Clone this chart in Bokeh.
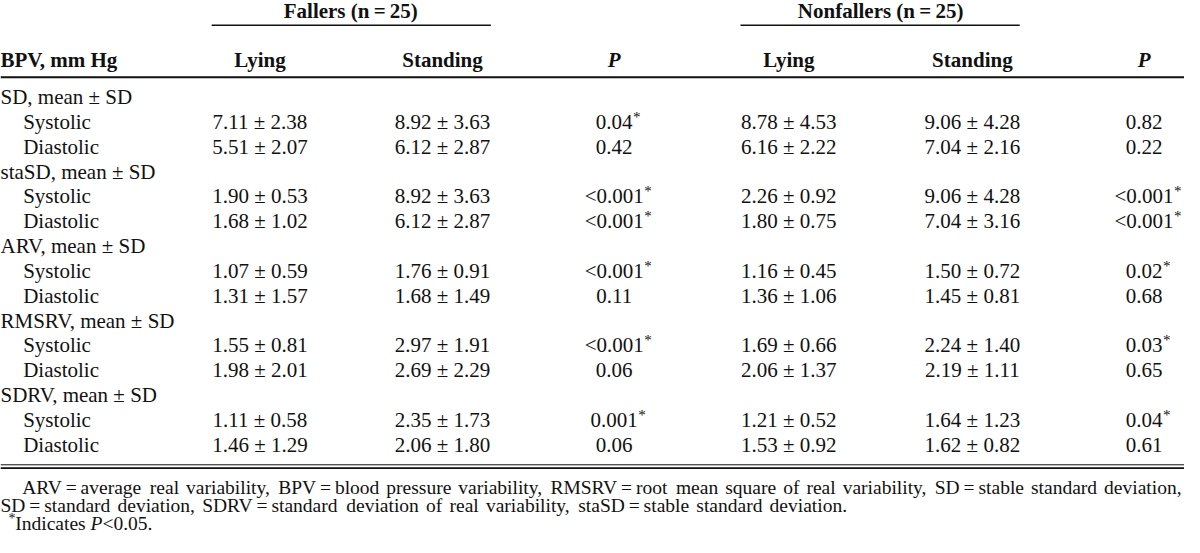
from bokeh.plotting import figure
from bokeh.models import Range1d
from bokeh.core.properties import value
from bokeh.embed import file_html
from bokeh.resources import INLINE

# ---------------- data ----------------
group_labels = ["SD, mean \u00b1 SD", "staSD, mean \u00b1 SD", "ARV, mean \u00b1 SD",
                "RMSRV, mean \u00b1 SD", "SDRV, mean \u00b1 SD"]
sub_labels = ["Systolic", "Diastolic"]
col_headers = ["Lying", "Standing", "P", "Lying", "Standing", "P"]
group_titles = ["Fallers (n\u2009=\u200925)", "Nonfallers (n\u2009=\u200925)"]

fallers_lying_mean = [7.11, 5.51, 1.90, 1.68, 1.07, 1.31, 1.55, 1.98, 1.11, 1.46]
fallers_lying_sd = [2.38, 2.07, 0.53, 1.02, 0.59, 1.57, 0.81, 2.01, 0.58, 1.29]
fallers_standing_mean = [8.92, 6.12, 8.92, 6.12, 1.76, 1.68, 2.97, 2.69, 2.35, 2.06]
fallers_standing_sd = [3.63, 2.87, 3.63, 2.87, 0.91, 1.49, 1.91, 2.29, 1.73, 1.80]
fallers_p = ["0.04", "0.42", "<0.001", "<0.001", "<0.001", "0.11", "<0.001", "0.06", "0.001", "0.06"]
fallers_sig = [True, False, True, True, True, False, True, False, True, False]

nonfallers_lying_mean = [8.78, 6.16, 2.26, 1.80, 1.16, 1.36, 1.69, 2.06, 1.21, 1.53]
nonfallers_lying_sd = [4.53, 2.22, 0.92, 0.75, 0.45, 1.06, 0.66, 1.37, 0.52, 0.92]
nonfallers_standing_mean = [9.06, 7.04, 9.06, 7.04, 1.50, 1.45, 2.24, 2.19, 1.64, 1.62]
nonfallers_standing_sd = [4.28, 2.16, 4.28, 3.16, 0.72, 0.81, 1.40, 1.11, 1.23, 0.82]
nonfallers_p = ["0.82", "0.22", "<0.001", "<0.001", "0.02", "0.68", "0.03", "0.65", "0.04", "0.61"]
nonfallers_sig = [False, False, True, True, True, False, True, False, True, False]

footnote_1 = ("ARV\u2009=\u2009average real variability, BPV\u2009=\u2009blood pressure variability, "
              "RMSRV\u2009=\u2009root mean square of real variability, SD\u2009=\u2009stable standard deviation,")
footnote_2 = ("SD\u2009=\u2009standard deviation, SDRV\u2009=\u2009standard deviation of real variability, "
              "staSD\u2009=\u2009stable standard deviation.")
footnote_3 = ["*", "Indicates ", "P", "<0.05."]

# ---------------- layout / style ----------------
FONT = value("Liberation Serif")
INK = "#111111"
MAIN = 21
FOOT = 19.5
col_x = [263, 448, 622, 799, 985, 1159]
row0, row_step = 102, 25.2
title_y, title_rule_y, header_y, header_rule_y = 15, 29, 64, 82
bottom_rule_y = 477
foot_y = [498, 516.5, 535]
foot_spans = [(22, 1197), (0, 858)]

FIG_W, FIG_H = 1184, 537
X0, X1, Y0, Y1 = 0, 1200, 549, 4
SX = FIG_W / (X1 - X0)  # px per data unit

# Times-compatible advance widths (em)
W = {c: 0.5 for c in "0123456789"}
W.update({" ": 0.25, ",": 0.25, ".": 0.25, "=": 0.564, "<": 0.564, "\u2009": 0.2, "*": 0.5})
W.update(dict(zip("abcdefghijklmnopqrstuvwxyz",
                  [.444, .5, .444, .5, .444, .333, .5, .5, .278, .278, .5, .278, .778, .5, .5, .5,
                   .5, .333, .389, .278, .5, .5, .722, .5, .5, .444])))
W.update(dict(zip("ABCDEFGHIJKLMNOPQRSTUVWXYZ",
                  [.722, .667, .667, .722, .611, .556, .722, .722, .333, .389, .722, .611, .889,
                   .722, .722, .556, .722, .667, .556, .611, .722, .722, .944, .722, .722, .611])))


def width_data(s, size):
    return sum(W.get(c, 0.5) for c in s) * size / SX


p = figure(width=FIG_W, height=FIG_H, x_range=Range1d(X0, X1), y_range=Range1d(Y0, Y1),
           output_backend="svg", toolbar_location=None, x_axis_type=None, y_axis_type=None,
           min_border=0)
p.grid.visible = False
p.outline_line_color = None
p.background_fill_color = "white"
p.border_fill_color = "white"


def txt(xs, ys, texts, size=MAIN, style="normal", align="center", baseline="middle"):
    p.text(x=xs, y=ys, text=texts, text_font=FONT, text_font_size=f"{size}px",
           text_font_style=style, text_align=align, text_baseline=baseline,
           text_color=INK)


# titles and rules
txt([355, 892], [title_y, title_y], group_titles, style="bold")
p.segment(x0=[214, 750], y0=[title_rule_y] * 2, x1=[497, 1033], y1=[title_rule_y] * 2,
          line_color=INK, line_width=1.5)
txt([0], [header_y], ["BPV, mm Hg"], style="bold", align="left")
txt([col_x[i] for i in (0, 1, 3, 4)], [header_y] * 4,
    [col_headers[i] for i in (0, 1, 3, 4)], style="bold")
txt([col_x[2], col_x[5]], [header_y] * 2, [col_headers[2], col_headers[5]], style="bold italic")
p.segment(x0=[0], y0=[header_rule_y], x1=[1200], y1=[header_rule_y], line_color=INK, line_width=2)

# body rows
rows_y = [row0 + row_step * k for k in range(15)]
group_y = [rows_y[3 * g] for g in range(5)]
data_y = [rows_y[3 * g + 1 + s] for g in range(5) for s in range(2)]
txt([0] * 5, group_y, group_labels, align="left")
txt([23] * 10, data_y, [sub_labels[i % 2] for i in range(10)], align="left")


def pm(means, sds):
    return [f"{m:.2f} \u00b1 {s:.2f}" for m, s in zip(means, sds)]


txt([col_x[0]] * 10, data_y, pm(fallers_lying_mean, fallers_lying_sd))
txt([col_x[1]] * 10, data_y, pm(fallers_standing_mean, fallers_standing_sd))
txt([col_x[3]] * 10, data_y, pm(nonfallers_lying_mean, nonfallers_lying_sd))
txt([col_x[4]] * 10, data_y, pm(nonfallers_standing_mean, nonfallers_standing_sd))

for cx, pv, sig in ((col_x[2], fallers_p, fallers_sig), (col_x[5], nonfallers_p, nonfallers_sig)):
    txt([cx] * 10, data_y, pv)
    ax, ay = [], []
    for s, y, flag in zip(pv, data_y, sig):
        if flag:
            ax.append(cx + width_data(s, MAIN) / 2 + 0.5)
            ay.append(y - 5)
    txt(ax, ay, ["*"] * len(ax), size=15, align="left")

# bottom double rule
p.segment(x0=[0, 0], y0=[bottom_rule_y - 1.8, bottom_rule_y + 1.6], x1=[1200, 1200],
          y1=[bottom_rule_y - 1.8, bottom_rule_y + 1.6], line_color=INK, line_width=[1.0, 1.6])

# footnotes: justified word placement
for line, y, (xa, xb) in zip((footnote_1, footnote_2), foot_y[:2], foot_spans):
    words = line.split(" ")
    ws = [width_data(w, FOOT) for w in words]
    gap = (xb - xa - sum(ws)) / (len(words) - 1)
    xs, x = [], xa
    for w in ws:
        xs.append(x)
        x += w + gap
    txt(xs, [y] * len(words), words, size=FOOT, align="left")

x = 8
txt([x], [foot_y[2] - 5], [footnote_3[0]], size=14, align="left")
x += 7
txt([x], [foot_y[2]], [footnote_3[1]], size=FOOT, align="left")
x += width_data(footnote_3[1], FOOT)
txt([x], [foot_y[2]], [footnote_3[2]], size=FOOT, style="italic", align="left")
x += 0.611 * FOOT / SX
txt([x], [foot_y[2]], [footnote_3[3]], size=FOOT, align="left")

open("out.html", "w").write(file_html(p, INLINE))
